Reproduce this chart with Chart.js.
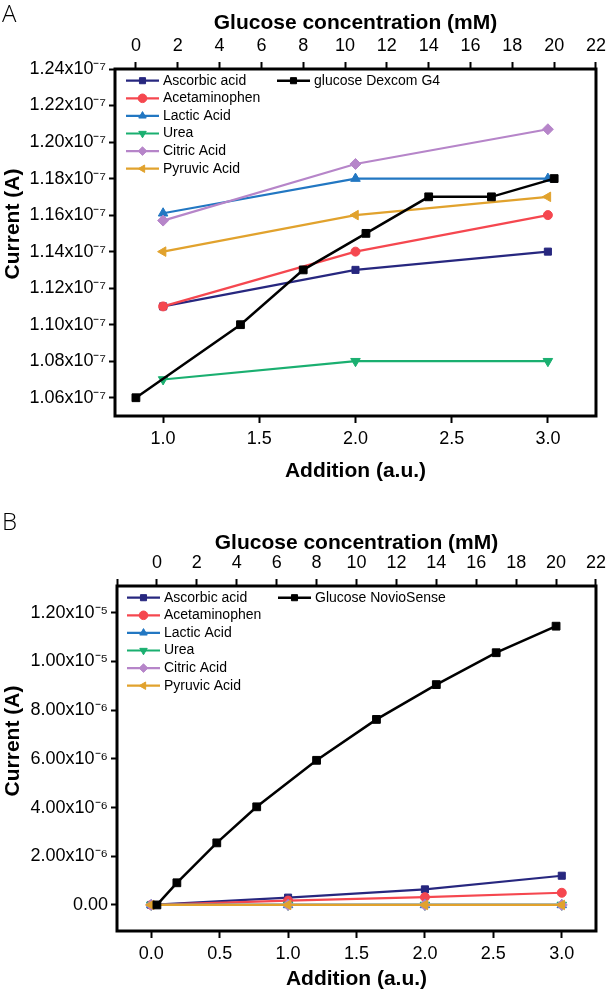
<!DOCTYPE html>
<html>
<head>
<meta charset="utf-8">
<script src="https://cdn.jsdelivr.net/npm/chart.js@4.4.1/dist/chart.umd.min.js"></script>
<style>
  body { margin: 0; background: #fff; }
  #page { position: relative; width: 611px; height: 995px; overflow: hidden; background: #fff; }
  canvas { position: absolute; left: 0; }
  .panel-letter { position: absolute; left: 2px; font: 300 24px 'Open Sans', sans-serif; line-height: 1; color: #000; }
  .y-title { position: absolute; font: bold 21px 'Liberation Sans', Arial, sans-serif; line-height: 1; white-space: nowrap; color: #000;
             transform: translate(-50%, -50%) rotate(-90deg); }
</style>
</head>
<body>
<div id="page">
  <canvas id="chartA" width="611" height="497" style="top:0"></canvas>
  <canvas id="chartB" width="611" height="498" style="top:497px"></canvas>
  <div class="panel-letter" style="top:1px">A</div>
  <div class="panel-letter" style="top:509px">B</div>
  <div class="y-title" style="left:11px;top:224px">Current (A)</div>
  <div class="y-title" style="left:11px;top:741px">Current (A)</div>
</div>
<script>
// ---- panel A data ----
const additionA = [1, 2, 3];
const ascorbicA = [1.11e-7, 1.13e-7, 1.14e-7];
const acetaminophenA = [1.11e-7, 1.14e-7, 1.16e-7];
const lacticA = [1.161e-7, 1.18e-7, 1.18e-7];
const ureaA = [1.07e-7, 1.08e-7, 1.08e-7];
const citricA = [1.157e-7, 1.188e-7, 1.207e-7];
const pyruvicA = [1.14e-7, 1.16e-7, 1.17e-7];
const glucoseConcA = [0, 5, 8, 11, 14, 17, 20];
const dexcomA = [1.06e-7, 1.10e-7, 1.13e-7, 1.15e-7, 1.17e-7, 1.17e-7, 1.18e-7];

// ---- panel B data ----
const additionB = [0, 1, 2, 3];
const ascorbicB = [0, 0.3e-6, 0.64e-6, 1.2e-6];
const acetaminophenB = [0, 0.18e-6, 0.32e-6, 0.5e-6];
const lacticB = [0, 0, 0, 0];
const ureaB = [0, 0, 0, 0];
const citricB = [0, 0, 0, 0];
const pyruvicB = [0, 0, 0, 0];
const glucoseConcB = [0, 1, 3, 5, 8, 11, 14, 17, 20];
const novioB = [0, 0.91e-6, 2.55e-6, 4.03e-6, 5.94e-6, 7.62e-6, 9.05e-6, 10.36e-6, 11.45e-6];

// ---- ticks ----
const yTicksA = [1.06e-7, 1.08e-7, 1.10e-7, 1.12e-7, 1.14e-7, 1.16e-7, 1.18e-7, 1.20e-7, 1.22e-7, 1.24e-7];
const yTickLabelsA = ['1.06x10⁻⁷', '1.08x10⁻⁷', '1.10x10⁻⁷', '1.12x10⁻⁷', '1.14x10⁻⁷', '1.16x10⁻⁷',
  '1.18x10⁻⁷', '1.20x10⁻⁷', '1.22x10⁻⁷', '1.24x10⁻⁷'];
const xTicksA = [1, 1.5, 2, 2.5, 3];
const xTickLabelsA = ['1.0', '1.5', '2.0', '2.5', '3.0'];
const concTicksA = [0, 2, 4, 6, 8, 10, 12, 14, 16, 18, 20, 22];
const concTickLabelsA = ['0', '2', '4', '6', '8', '10', '12', '14', '16', '18', '20', '22'];

const yTicksB = [0, 2e-6, 4e-6, 6e-6, 8e-6, 1e-5, 1.2e-5];
const yTickLabelsB = ['0.00', '2.00x10⁻⁶', '4.00x10⁻⁶', '6.00x10⁻⁶', '8.00x10⁻⁶', '1.00x10⁻⁵', '1.20x10⁻⁵'];
const xTicksB = [0, 0.5, 1, 1.5, 2, 2.5, 3];
const xTickLabelsB = ['0.0', '0.5', '1.0', '1.5', '2.0', '2.5', '3.0'];
const concTicksB = [-2, 0, 2, 4, 6, 8, 10, 12, 14, 16, 18, 20, 22];
const concTickLabelsB = ['', '0', '2', '4', '6', '8', '10', '12', '14', '16', '18', '20', '22'];

const substanceNames = ['Ascorbic acid', 'Acetaminophen', 'Lactic Acid', 'Urea', 'Citric Acid', 'Pyruvic Acid'];
const substanceColors = ['#27277f', '#f5474f', '#2277c2', '#1aaf70', '#b685c9', '#e1a22d'];
const substanceMarkers = [
  { style: 'rect', rotation: 0, radius: 5 },
  { style: 'circle', rotation: 0, radius: 4.5 },
  { style: 'triangle', rotation: 0, radius: 5.5 },
  { style: 'triangle', rotation: 180, radius: 5.5 },
  { style: 'rectRot', rotation: 0, radius: 5.5 },
  { style: 'triangle', rotation: -90, radius: 5.5 },
];

const FONT = "'Liberation Sans', Arial, sans-serif";

function buildDatasets(addition, series, glucoseLabel, conc, glucose) {
  const sets = series.map((values, i) => ({
    label: substanceNames[i],
    data: values.map((v, k) => ({ x: addition[k], y: v })),
    xAxisID: 'x',
    yAxisID: 'y',
    borderColor: substanceColors[i],
    backgroundColor: substanceColors[i],
    pointBackgroundColor: substanceColors[i],
    pointBorderColor: substanceColors[i],
    borderWidth: 2.2,
    pointStyle: substanceMarkers[i].style,
    pointRotation: substanceMarkers[i].rotation,
    pointRadius: substanceMarkers[i].radius,
    pointBorderWidth: 1,
    tension: 0,
    order: 6 - i,
  }));
  sets.push({
    label: glucoseLabel,
    data: glucose.map((v, k) => ({ x: conc[k], y: v })),
    xAxisID: 'x2',
    yAxisID: 'y',
    borderColor: '#000',
    backgroundColor: '#000',
    pointBackgroundColor: '#000',
    pointBorderColor: '#000',
    borderWidth: 2.5,
    pointStyle: 'rect',
    pointRadius: 5.5,
    pointBorderWidth: 1,
    tension: 0,
    order: 0,
  });
  return sets;
}

// frame around the plot area
const framePlugin = {
  id: 'frame',
  afterDatasetsDraw(chart) {
    const { ctx, chartArea: a } = chart;
    ctx.save();
    ctx.strokeStyle = '#000';
    ctx.lineWidth = 3;
    ctx.strokeRect(a.left, a.top, a.right - a.left, a.bottom - a.top);
    ctx.restore();
  },
};

// legend laid out in two columns inside the plot
const splitLegend = {
  id: 'splitLegend',
  afterDraw(chart, args, opts) {
    const { ctx, chartArea } = chart;
    ctx.save();
    ctx.font = `14px ${FONT}`;
    ctx.textBaseline = 'middle';
    opts.items.forEach((item) => {
      const ds = chart.data.datasets[item.index];
      const x0 = chartArea.left + item.dx;
      const y = chartArea.top + item.dy;
      ctx.strokeStyle = ds.borderColor;
      ctx.lineWidth = ds.borderWidth;
      ctx.beginPath();
      ctx.moveTo(x0, y);
      ctx.lineTo(x0 + opts.lineLength, y);
      ctx.stroke();
      ctx.fillStyle = ds.pointBackgroundColor;
      ctx.lineWidth = 1;
      Chart.helpers.drawPoint(ctx, {
        pointStyle: ds.pointStyle,
        rotation: ds.pointRotation || 0,
        radius: opts.markerRadius,
        borderWidth: 1,
      }, x0 + opts.lineLength / 2, y);
      ctx.fillStyle = '#000';
      ctx.fillText(ds.label, x0 + opts.lineLength + opts.gap, y);
    });
    ctx.restore();
  },
};

function tickAxis(position, range, ticks, labels, size, extra) {
  return Object.assign({
    type: 'linear',
    position,
    min: range[0],
    max: range[1],
    afterBuildTicks: (scale) => { scale.ticks = ticks.map((v) => ({ value: v })); },
    afterFit: (scale) => {
      if (position === 'left') scale.width = size; else scale.height = size;
    },
    ticks: {
      callback: (value, index) => labels[index],
      font: { family: FONT, size: 18 },
      color: '#000',
      padding: position === 'left' ? 3 : 5,
      autoSkip: false,
      maxRotation: 0,
    },
    grid: {
      drawOnChartArea: false,
      tickLength: position === 'left' ? 6 : 7,
      tickWidth: 2,
      tickColor: '#000',
    },
    border: { display: false },
  }, extra);
}

function makeChart(id, cfg) {
  return new Chart(document.getElementById(id).getContext('2d'), {
    type: 'line',
    data: { datasets: cfg.datasets },
    options: {
      responsive: false,
      animation: false,
      events: [],
      layout: { padding: { top: 0, left: 0, bottom: 0, right: cfg.rightPad } },
      plugins: {
        legend: { display: false },
        tooltip: { enabled: false },
        splitLegend: {
          lineLength: 33,
          gap: 4,
          markerRadius: 4.3,
          items: [0, 1, 2, 3, 4, 5].map((i) => ({ index: i, dx: cfg.legendLeft, dy: 11.7 + i * 17.6 }))
            .concat([{ index: 6, dx: cfg.legendLeft + 151, dy: 11.7 }]),
        },
      },
      scales: {
        x: tickAxis('bottom', cfg.xRange, cfg.xTicks, cfg.xLabels, cfg.bottomHeight, {
          title: {
            display: true, text: 'Addition (a.u.)', color: '#000',
            font: { family: FONT, size: 21, weight: 'bold' },
            padding: { top: 0, bottom: cfg.bottomTitlePad },
          },
        }),
        x2: tickAxis('top', cfg.concRange, cfg.concTicks, cfg.concLabels, cfg.topHeight, {
          title: {
            display: true, text: 'Glucose concentration (mM)', color: '#000',
            font: { family: FONT, size: 21, weight: 'bold' },
            padding: { top: cfg.topTitlePad, bottom: 0 },
          },
        }),
        y: tickAxis('left', cfg.yRange, cfg.yTicks, cfg.yLabels, cfg.leftWidth, {}),
      },
    },
    plugins: [framePlugin, splitLegend],
  });
}

makeChart('chartA', {
  datasets: buildDatasets(additionA, [ascorbicA, acetaminophenA, lacticA, ureaA, citricA, pyruvicA],
    'glucose Dexcom G4', glucoseConcA, dexcomA),
  xRange: [0.75, 3.25], xTicks: xTicksA, xLabels: xTickLabelsA,
  concRange: [-1, 22], concTicks: concTicksA, concLabels: concTickLabelsA,
  yRange: [1.05e-7, 1.24e-7], yTicks: yTicksA, yLabels: yTickLabelsA,
  leftWidth: 115, topHeight: 69, bottomHeight: 81, rightPad: 11,
  topTitlePad: 11, bottomTitlePad: 13,
  legendLeft: 11,
});

makeChart('chartB', {
  datasets: buildDatasets(additionB, [ascorbicB, acetaminophenB, lacticB, ureaB, citricB, pyruvicB],
    'Glucose NovioSense', glucoseConcB, novioB),
  xRange: [-0.25, 3.25], xTicks: xTicksB, xLabels: xTickLabelsB,
  concRange: [-2, 22], concTicks: concTicksB, concLabels: concTickLabelsB,
  yRange: [-1.07e-6, 1.31e-5], yTicks: yTicksB, yLabels: yTickLabelsB,
  leftWidth: 117, topHeight: 89, bottomHeight: 64, rightPad: 13,
  topTitlePad: 34, bottomTitlePad: 3,
  legendLeft: 10,
});
</script>
</body>
</html>
